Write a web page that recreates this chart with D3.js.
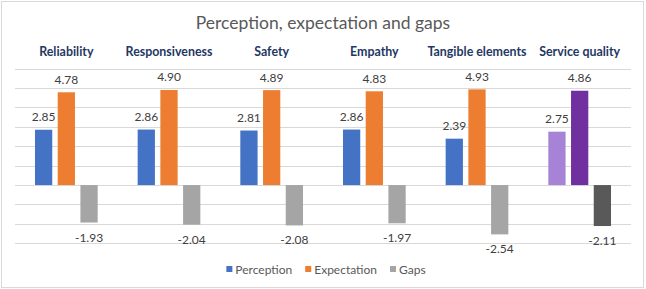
<!DOCTYPE html>
<html>
<head>
<meta charset="utf-8">
<script src="https://cdn.jsdelivr.net/npm/d3@7"></script>
<style>
  html, body { margin: 0; padding: 0; background: #fff; }
  svg { display: block; font-family: Lato, "Open Sans", sans-serif; }
</style>
</head>
<body>
<svg id="chart"></svg>
<script>
const categories = ["Reliability", "Responsiveness", "Safety", "Empathy", "Tangible elements", "Service quality"];
const seriesNames = ["Perception", "Expectation", "Gaps"];
const perception = [2.85, 2.86, 2.81, 2.86, 2.39, 2.75];
const expectation = [4.78, 4.90, 4.89, 4.83, 4.93, 4.86];
const gaps = [-1.93, -2.04, -2.08, -1.97, -2.54, -2.11];
const yTicks = [-3, -2, -1, 0, 1, 2, 3, 4, 5, 6];

const width = 646, height = 289;
const marginLeft = 15, marginRight = 15;
const plotTop = 68.6, plotBottom = 243.3;

const seriesColors = ["#4472C4", "#ED7D31", "#A5A5A5"];
// last category is drawn in its own colours
const lastColors = ["#A683D6", "#7030A0", "#595959"];

const svg = d3.select("#chart")
    .attr("width", width)
    .attr("height", height)
    .attr("viewBox", [0, 0, width, height]);

// chart border
svg.append("rect")
    .attr("x", 1.5).attr("y", 1.5)
    .attr("width", width - 4).attr("height", height - 3)
    .attr("fill", "#fff")
    .attr("stroke", "#D9D9D9");

const x = d3.scaleBand()
    .domain(categories)
    .range([marginLeft, width - marginRight]);

const x1 = d3.scaleBand()
    .domain(seriesNames)
    .range([0, x.bandwidth()])
    .paddingInner(0.24)
    .paddingOuter(0.88);

const y = d3.scaleLinear()
    .domain([-3, 6])
    .range([plotBottom, plotTop]);

// gridlines
svg.append("g")
    .selectAll("line")
    .data(yTicks)
    .join("line")
    .attr("x1", marginLeft)
    .attr("x2", width - marginRight)
    .attr("y1", d => Math.round(y(d)) + 0.5)
    .attr("y2", d => Math.round(y(d)) + 0.5)
    .attr("stroke", "#D9D9D9")
    .attr("stroke-width", 1);

// title
svg.append("text")
    .attr("x", width / 2)
    .attr("y", 29)
    .attr("text-anchor", "middle")
    .attr("font-size", 17.5)
    .attr("fill", "#595959")
    .text("Perception, expectation and gaps");

// category labels on top
svg.append("g")
    .selectAll("text")
    .data(categories)
    .join("text")
    .attr("x", d => x(d) + x.bandwidth() / 2)
    .attr("y", 56)
    .attr("text-anchor", "middle")
    .attr("font-size", 12.4)
    .attr("font-weight", "bold")
    .attr("fill", "#1F3864")
    .text(d => d);

const rows = categories.map((c, i) => ({
    category: c,
    values: [perception[i], expectation[i], gaps[i]],
    last: i === categories.length - 1
}));

const groups = svg.append("g")
    .selectAll("g")
    .data(rows)
    .join("g")
    .attr("transform", d => `translate(${x(d.category)},0)`);

const bars = groups.selectAll("g")
    .data(d => d.values.map((v, j) => ({ v, s: seriesNames[j], j, last: d.last })))
    .join("g");

bars.append("rect")
    .attr("x", d => x1(d.s))
    .attr("width", x1.bandwidth())
    .attr("y", d => y(Math.max(0, d.v)))
    .attr("height", d => Math.abs(y(d.v) - y(0)))
    .attr("fill", d => d.last ? lastColors[d.j] : seriesColors[d.j]);

bars.append("text")
    .attr("x", d => x1(d.s) + x1.bandwidth() / 2)
    .attr("y", d => d.v >= 0 ? y(d.v) - 8.5 : y(d.v) + 19)
    .attr("text-anchor", "middle")
    .attr("font-size", 12)
    .attr("fill", "#404040")
    .text(d => d.v.toFixed(2));

// legend
const legend = svg.append("g").attr("transform", "translate(0,269)");
const items = legend.selectAll("g")
    .data(seriesNames)
    .join("g");

items.append("rect")
    .attr("y", -3)
    .attr("width", 6)
    .attr("height", 6)
    .attr("fill", (d, i) => seriesColors[i]);

items.append("text")
    .attr("x", 9)
    .attr("y", 4.5)
    .attr("font-size", 12)
    .attr("fill", "#595959")
    .text(d => d);

const itemGap = 13;
const widths = [];
items.each(function () {
    widths.push(9 + d3.select(this).select("text").node().getComputedTextLength());
});
const total = d3.sum(widths) + itemGap * (widths.length - 1);
let cursor = 326 - total / 2;
items.attr("transform", (d, i) => {
    const t = `translate(${cursor},0)`;
    cursor += widths[i] + itemGap;
    return t;
});
</script>
</body>
</html>
